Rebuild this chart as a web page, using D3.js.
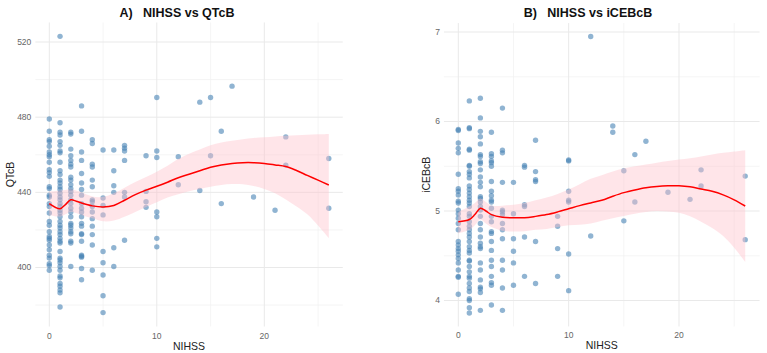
<!DOCTYPE html>
<html>
<head>
<meta charset="utf-8">
<script src="https://cdn.jsdelivr.net/npm/d3@7"></script>
<style>
  body { margin: 0; background: #fff; }
  svg { display: block; font-family: "Liberation Sans", Arial, sans-serif; }
  .title { white-space: pre; }
</style>
</head>
<body>
<div id="chart"></div>
<script>
// Tick values
const nihssTicks = [0, 10, 20];
const nihssMinor = [5, 15, 25];
const qtcTicks = [400, 440, 480, 520];
const qtcMinor = [380, 420, 460, 500];
const icebTicks = [4, 5, 6, 7];
const icebMinor = [4.5, 5.5, 6.5];

// Raw points, grouped by NIHSS score: [nihss, [values...]]
const qtcPoints = [
  [0, [479, 472.5, 468, 467, 464.5, 461.5, 460, 459, 456, 452, 450.5, 448.5, 443, 442, 438.5, 437.5, 434, 432.5, 429, 424.5, 422.5, 419, 416.5, 415.5, 414.5, 412, 409.5, 406.5, 405, 402, 401, 398.5]],
  [1, [523, 477, 472, 470.5, 467, 465, 462, 461, 456, 451.5, 449.5, 446.5, 445, 443, 441.5, 439.5, 437.5, 436, 434, 432.5, 430.5, 429, 427, 424.5, 422.5, 421, 419, 417.5, 415.5, 414, 413, 408.5, 405, 404, 402.5, 400.5, 398.5, 395.5, 394.5, 391.5, 390, 388, 386.5, 379]],
  [2, [472, 471, 463, 459.5, 457, 455, 453.5, 448, 446.5, 444, 442, 440.5, 438.5, 436, 434, 431.5, 429.5, 427, 423.5, 422.5, 421, 419, 418, 414, 413, 400.5]],
  [3, [486, 472.5, 461.5, 457, 450, 445, 441.5, 438.5, 434, 431.5, 429.5, 427, 423.5, 422, 418, 417.5, 414, 406.5, 406, 405.5, 399.5, 393.5]],
  [4, [468, 466, 455, 453.5, 446.5, 443, 436, 435, 432.5, 429.5, 426, 422, 417.5, 412, 398.5]],
  [5, [462.5, 437, 433, 428, 408.5, 402.5, 396, 385, 376]],
  [6, [462.5, 451.5, 443.5, 440, 410.5, 400.5]],
  [7, [465, 463.5, 462, 457, 440, 437.5, 414.5]],
  [9, [459.5, 440.5, 435, 432]],
  [10, [490.5, 462, 458.5, 429.5, 427, 415.5, 411]],
  [12, [459, 444]],
  [14, [488, 441]],
  [15, [490.5, 459.5]],
  [16, [472.5, 434]],
  [17, [496.5]],
  [19, [437.5]],
  [21, [430.5]],
  [22, [469.5, 454.5]],
  [26, [458, 431.5]]
];

const icebPoints = [
  [0, [5.91, 5.9, 5.76, 5.7, 5.65, 5.41, 5.25, 5.22, 5.18, 5.11, 5.09, 5.01, 4.97, 4.92, 4.86, 4.79, 4.66, 4.62, 4.58, 4.55, 4.51, 4.47, 4.42, 4.34, 4.27, 4.26, 4.07]],
  [1, [6.23, 5.93, 5.92, 5.69, 5.68, 5.51, 5.5, 5.44, 5.41, 5.37, 5.28, 5.24, 5.2, 5.16, 5.12, 5.09, 5.05, 4.97, 4.94, 4.88, 4.83, 4.79, 4.75, 4.71, 4.66, 4.6, 4.56, 4.53, 4.45, 4.44, 4.38, 4.32, 4.27, 4.25, 4.19, 4.14, 4.1, 4.02, 4.0, 3.92, 3.86]],
  [2, [6.26, 6.04, 5.89, 5.83, 5.75, 5.63, 5.61, 5.55, 5.53, 5.46, 5.38, 5.32, 5.27, 5.16, 5.14, 5.1, 5.05, 5.01, 4.94, 4.86, 4.79, 4.71, 4.64, 4.6, 4.58, 4.42, 4.34, 4.23, 4.15, 4.13, 4.09, 3.89]],
  [3, [5.88, 5.64, 5.61, 5.56, 5.54, 5.5, 5.33, 5.22, 5.17, 5.12, 5.1, 5.03, 4.94, 4.88, 4.77, 4.75, 4.66, 4.56, 4.45, 4.38, 4.27, 4.2, 4.17, 3.95]],
  [4, [6.15, 5.68, 5.65, 5.32, 5.01, 4.99, 4.96, 4.86, 4.79, 4.69, 4.45, 4.34, 4.14, 3.89]],
  [5, [5.32, 4.97, 4.69, 4.55, 4.42, 4.17]],
  [6, [5.51, 5.49, 5.07, 5.05, 4.71, 4.27]],
  [7, [5.79, 5.44, 5.35, 5.33, 4.66, 4.19]],
  [9, [4.94, 4.83, 4.58, 4.27]],
  [10, [5.57, 5.56, 5.22, 5.12, 5.1, 4.52, 4.11]],
  [12, [6.95, 4.72]],
  [14, [5.95, 5.88]],
  [15, [5.45, 4.89]],
  [16, [5.63, 5.1]],
  [17, [5.78]],
  [19, [5.21]],
  [21, [5.13]],
  [22, [5.46, 5.28]],
  [26, [5.39, 4.68]]
];

// Smoother (loess)
const fitX = [0, 1, 1.5, 2, 2.5, 3, 4, 5, 6, 7, 8, 9, 10, 11, 12, 13, 14, 15, 16, 17, 18, 19, 20, 21, 22, 23, 24, 25, 26];
const fitQtc = [434, 431.3, 433.5, 436, 435.3, 434.3, 432.8, 432.2, 433, 435.8, 438.8, 441.2, 443.2, 445.4, 447.8, 449.6, 451.5, 453.4, 454.6, 455.4, 455.8, 455.8, 455.4, 454.6, 453.7, 451.6, 449, 446.5, 443.9];
const loQtc = [428, 427.1, 428.3, 429.7, 429, 428, 426.2, 424.6, 425, 427, 429.6, 432.2, 434.7, 437.3, 439, 440.6, 441.8, 443, 443.9, 444.4, 444.3, 443.4, 441.8, 439.5, 436.2, 432.5, 428.3, 422.3, 415.6];
const hiQtc = [440.4, 441, 441.3, 441.6, 441, 440, 437.8, 437.6, 439.5, 442.5, 445.5, 448.2, 451, 454.2, 457.8, 460.5, 462.8, 465, 466.5, 467.5, 468.3, 468.9, 469.3, 469.7, 470.1, 470.4, 470.7, 470.9, 471.1];
const fitIceb = [4.88, 4.905, 4.96, 5.03, 5.0, 4.96, 4.93, 4.925, 4.925, 4.94, 4.96, 4.99, 5.025, 5.06, 5.09, 5.12, 5.165, 5.205, 5.235, 5.26, 5.275, 5.282, 5.282, 5.27, 5.245, 5.22, 5.18, 5.125, 5.056];
const loIceb = [4.75, 4.79, 4.84, 4.905, 4.86, 4.82, 4.78, 4.77, 4.775, 4.79, 4.8, 4.82, 4.84, 4.845, 4.86, 4.89, 4.92, 4.945, 4.97, 4.99, 5.0, 4.995, 4.98, 4.94, 4.88, 4.81, 4.72, 4.59, 4.43];
const hiIceb = [4.99, 5.05, 5.09, 5.14, 5.1, 5.06, 5.06, 5.07, 5.09, 5.12, 5.15, 5.19, 5.24, 5.3, 5.36, 5.4, 5.44, 5.477, 5.5, 5.52, 5.54, 5.56, 5.575, 5.59, 5.61, 5.63, 5.65, 5.665, 5.68];

const W = 767, H = 353;
const svg = d3.select("#chart").append("svg")
    .attr("width", W)
    .attr("height", H);

function drawPanel(cfg) {
    const x = d3.scaleLinear().domain([0, 20]).range(cfg.xRange);
    const y = d3.scaleLinear().domain(cfg.yDom).range(cfg.yRange);
    const left = x(-1.3), right = x(27.3);
    const top = y(cfg.yLim[1]), bottom = y(cfg.yLim[0]);
    const g = svg.append("g");

    // grid, minor first
    g.selectAll(".hmin").data(cfg.yMinor.filter(v => y(v) > top && y(v) < bottom)).enter()
        .append("line")
        .attr("x1", left).attr("x2", right)
        .attr("y1", d => y(d)).attr("y2", d => y(d))
        .attr("stroke", "#f0f0f0").attr("stroke-width", 0.7);
    g.selectAll(".vmin").data(nihssMinor).enter()
        .append("line")
        .attr("x1", d => x(d)).attr("x2", d => x(d))
        .attr("y1", top).attr("y2", bottom)
        .attr("stroke", "#f0f0f0").attr("stroke-width", 0.7);
    g.selectAll(".hmaj").data(cfg.yTicks).enter()
        .append("line")
        .attr("x1", left).attr("x2", right)
        .attr("y1", d => y(d)).attr("y2", d => y(d))
        .attr("stroke", "#e9e9e9").attr("stroke-width", 1);
    g.selectAll(".vmaj").data(nihssTicks).enter()
        .append("line")
        .attr("x1", d => x(d)).attr("x2", d => x(d))
        .attr("y1", top).attr("y2", bottom)
        .attr("stroke", "#e9e9e9").attr("stroke-width", 1);

    // tick labels
    g.selectAll(".yt").data(cfg.yTicks).enter()
        .append("text")
        .attr("x", left - 4).attr("y", d => y(d))
        .attr("dy", "0.35em").attr("text-anchor", "end")
        .attr("font-size", 8.5).attr("fill", "#666")
        .text(d => d);
    g.selectAll(".xt").data(nihssTicks).enter()
        .append("text")
        .attr("x", d => x(d)).attr("y", bottom + 12)
        .attr("text-anchor", "middle")
        .attr("font-size", 8.5).attr("fill", "#666")
        .text(d => d);

    // points
    const pts = cfg.points.flatMap(([n, vals]) => vals.map(v => ({n, v})));
    g.selectAll("circle").data(pts).enter()
        .append("circle")
        .attr("cx", d => x(d.n)).attr("cy", d => y(d.v))
        .attr("r", 2.7)
        .attr("fill", "steelblue")
        .attr("fill-opacity", 0.6);

    // confidence ribbon + smoother
    const band = fitX.map((fx, i) => ({fx, lo: cfg.lo[i], hi: cfg.hi[i], f: cfg.fit[i]}));
    g.append("path")
        .datum(band)
        .attr("fill", "pink")
        .attr("fill-opacity", 0.42)
        .attr("d", d3.area().curve(d3.curveCatmullRom)
            .x(d => x(d.fx)).y0(d => y(d.lo)).y1(d => y(d.hi)));
    g.append("path")
        .datum(band)
        .attr("fill", "none")
        .attr("stroke", "red")
        .attr("stroke-width", 1.5)
        .attr("d", d3.line().curve(d3.curveCatmullRom)
            .x(d => x(d.fx)).y(d => y(d.f)));

    // axis titles
    g.append("text")
        .attr("x", (left + right) / 2).attr("y", bottom + 23)
        .attr("text-anchor", "middle")
        .attr("font-size", 10.5).attr("fill", "#222")
        .text("NIHSS");
    g.append("text")
        .attr("transform", `translate(${cfg.yLabelX},${(top + bottom) / 2}) rotate(-90)`)
        .attr("text-anchor", "middle")
        .attr("font-size", 10.5).attr("fill", "#222")
        .text(cfg.yLabel);

    // title
    g.append("text")
        .attr("class", "title")
        .attr("x", cfg.titleX).attr("y", 17)
        .attr("text-anchor", "middle")
        .attr("font-size", 12.5).attr("font-weight", "bold").attr("fill", "#111")
        .text(cfg.title);
}

drawPanel({
    xRange: [49.3, 264.3],
    yDom: [400, 520], yRange: [267.5, 42],
    yLim: [368.6, 530.4],
    yTicks: qtcTicks, yMinor: qtcMinor,
    points: qtcPoints, fit: fitQtc, lo: loQtc, hi: hiQtc,
    yLabel: "QTcB", yLabelX: 14,
    title: "A)   NIHSS vs QTcB", titleX: 177
});

drawPanel({
    xRange: [458.3, 679],
    yDom: [4, 7], yRange: [300.5, 32],
    yLim: [3.71, 7.1],
    yTicks: icebTicks, yMinor: icebMinor,
    points: icebPoints, fit: fitIceb, lo: loIceb, hi: hiIceb,
    yLabel: "iCEBcB", yLabelX: 430,
    title: "B)   NIHSS vs iCEBcB", titleX: 588
});
</script>
</body>
</html>
